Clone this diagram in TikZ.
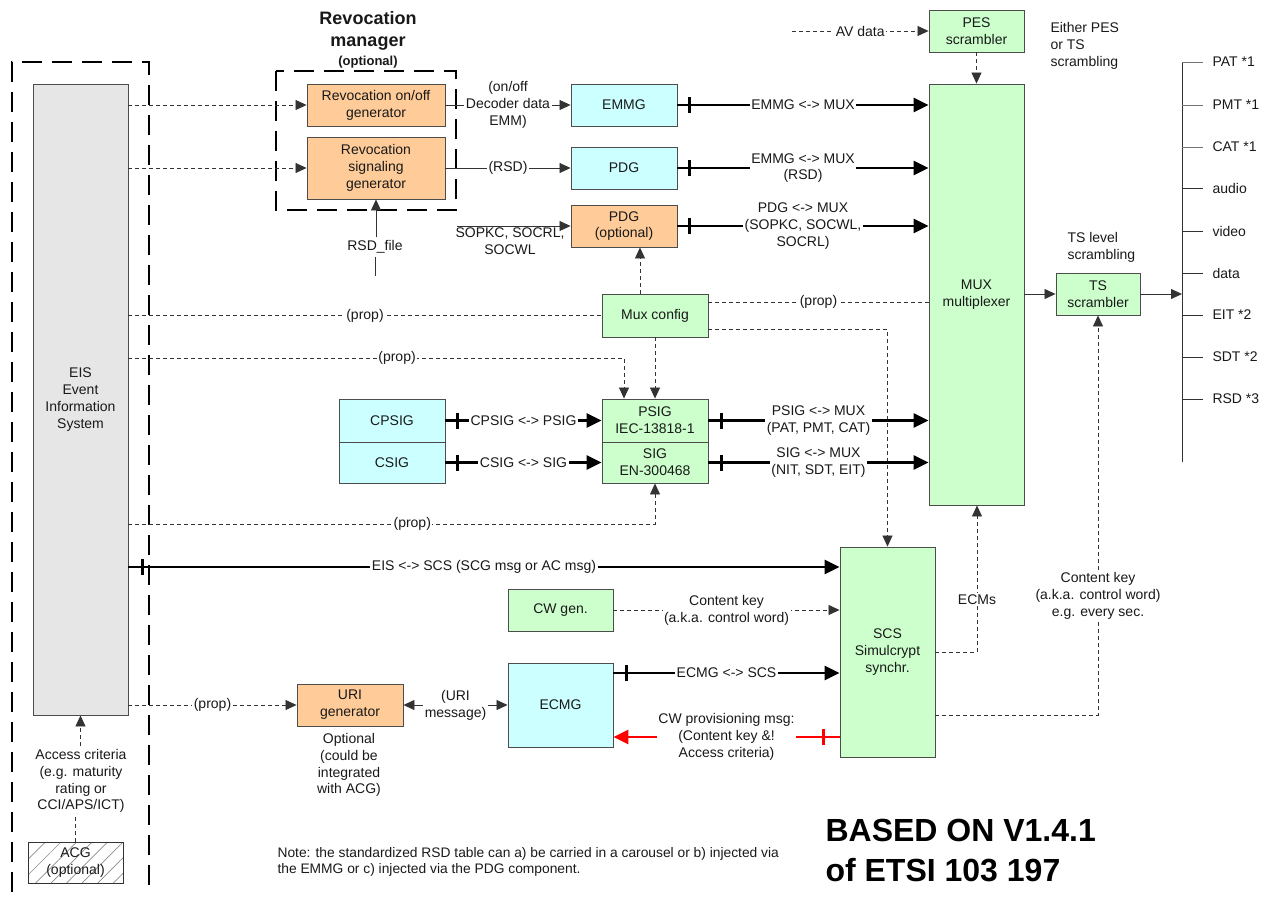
\documentclass[tikz,border=0pt]{standalone}
\usepackage{fontspec}
\setmainfont{Liberation Sans}
\usetikzlibrary{arrows.meta,calc,decorations.markings,patterns.meta}
\definecolor{orangec}{HTML}{FFCC99}
\definecolor{cyanc}{HTML}{CCFFFF}
\definecolor{greenc}{HTML}{CCFFCC}
\definecolor{grayc}{HTML}{E6E6E6}
\definecolor{linec}{HTML}{333333}
\definecolor{redc}{HTML}{FF0000}
\begin{document}
\begin{tikzpicture}[x=1pt,y=-1pt,
  every node/.style={font=\fontsize{14}{16.8}\selectfont, align=center, text=black!90},
  box/.style={draw=black!70, line width=0.9pt, rectangle, inner sep=2pt},
  thin/.style={draw=linec, line width=0.8pt},
  dl/.style={thin, dash pattern=on 4pt off 3pt},
  tipS/.style={-{Triangle[length=11pt,width=10pt]}},
  thk/.style={draw=black, line width=2.6pt, -{Triangle[length=15pt,width=14pt]}},
  redthk/.style={draw=redc, line width=2.6pt, -{Triangle[length=15pt,width=14pt]}},
  lbl/.style={fill=white, inner sep=1.5pt},
  bigdash/.style={line width=2.6pt, dash pattern=on 20pt off 10pt},
  tickd/.style={postaction={decorate,decoration={markings,mark=at position #1 with {\draw[-,line width=2.5pt,black] (0pt,-8pt)--(0pt,8pt);}}}},
  tickr/.style={postaction={decorate,decoration={markings,mark=at position #1 with {\draw[-,line width=2.5pt,redc] (0pt,-8pt)--(0pt,8pt);}}}}
]
\useasboundingbox (0,0) rectangle (1269,903);

% ---------- EIS ----------
\draw[bigdash] (12,892) -- (12,62) -- (149,62) -- (149,892);
\node[box, fill=grayc, minimum width=95pt, minimum height=631pt] (eis) at (80.5,399.5) {EIS\\Event\\Information\\System};

% ---------- Revocation manager ----------
\draw[bigdash] (276,71) rectangle (456,210);
\node[font=\bfseries\fontsize{18}{22}\selectfont] (rmtitle) at (368,31) {Revocation\\manager};
\node[font=\bfseries\fontsize{13}{16}\selectfont, inner sep=0pt] (rmopt) at (368,62) {(optional)};
\node[box, fill=orangec, minimum width=138pt, minimum height=42pt] (revon) at (376,105) {Revocation on/off\\generator};
\node[box, fill=orangec, minimum width=138pt, minimum height=62pt] (revsig) at (376,168) {Revocation\\signaling\\generator};
\node[inner sep=3pt] (rsdf) at (375,247) {RSD\_file};
\coordinate (rsdend) at (375,276);

% ---------- generators ----------
\node[box, fill=cyanc, minimum width=106pt, minimum height=42pt] (emmg) at (624,105) {EMMG};
\node[box, fill=cyanc, minimum width=106pt, minimum height=42pt] (pdg1) at (624,168) {PDG};
\node[box, fill=orangec, minimum width=106pt, minimum height=42pt] (pdg2) at (624,226) {PDG\\(optional)};
\coordinate (sopkc) at (457,226);
\node (sopkct) at (510,241) {SOPKC, SOCRL,\\SOCWL};

\node[box, fill=greenc, minimum width=95pt, minimum height=42pt] (pes) at (976.5,31) {PES\\scrambler};
\coordinate (avstart) at (792,31);
\node[anchor=west, align=left] (either) at (1047,46) {Either PES\\or TS\\scrambling};

\node[box, fill=greenc, minimum width=95pt, minimum height=421pt] (mux) at (976.5,294.5) {MUX\\multiplexer};
\node[box, fill=greenc, minimum width=84pt, minimum height=42pt] (ts) at (1098,294) {TS\\scrambler};
\node[anchor=west, align=left] (tslevel) at (1064,247) {TS level\\scrambling};

\node[box, fill=greenc, minimum width=106pt, minimum height=43pt] (muxcfg) at (655,315.5) {Mux config};
\node[box, fill=greenc, minimum width=106pt, minimum height=43pt] (psig) at (655,420.5) {PSIG\\IEC-13818-1};
\node[box, fill=greenc, minimum width=106pt, minimum height=41pt] (sig) at (655,462.5) {SIG\\EN-300468};
\node[box, fill=cyanc, minimum width=106pt, minimum height=43pt] (cpsig) at (392,420.5) {CPSIG};
\node[box, fill=cyanc, minimum width=106pt, minimum height=41pt] (csig) at (392,462.5) {CSIG};

\node[box, fill=greenc, minimum width=95pt, minimum height=210pt] (scs) at (887.5,652) {SCS\\Simulcrypt\\synchr.};
\node[box, fill=greenc, minimum width=105pt, minimum height=42pt] (cwgen) at (560.5,610) {CW gen.};
\node[box, fill=cyanc, minimum width=105pt, minimum height=84pt] (ecmg) at (560.5,705) {ECMG};
\node[box, fill=orangec, minimum width=106pt, minimum height=42pt] (urigen) at (350,705) {URI\\generator};
\node (uriopt) at (349,765) {Optional\\(could be\\integrated\\with ACG)};

\node[draw=black!80, line width=0.9pt, pattern={Lines[angle=45,distance=11pt,line width=0.7pt]}, pattern color=black!45, minimum width=95pt, minimum height=41pt, inner sep=0pt] (acg) at (75.5,862.5) {};
\node (acgt) at (acg) {ACG\\(optional)};
\node (acc) at (81,781) {Access criteria\\(e.g. maturity\\rating or\\CCI/APS/ICT)};

% ---------- bus ----------
\coordinate (bus) at (1182,294);
\coordinate (bustop) at (1182,62);
\coordinate (busbot) at (1182,462);
\draw[thin] (bustop) -- (busbot);
\foreach \y/\t/\c [count=\i] in {62/PAT *1/black!55,105/PMT *1/black!55,147/CAT *1/black!55,188/audio/linec,231/video/linec,273/data/linec,315/EIT *2/linec,357/SDT *2/linec,399/RSD *3/linec}{
  \draw[line width=0.8pt, draw=\c] (1182,\y) -- (1203,\y);
  \node[anchor=west] (bl\i) at (1209,\y) {\t};
}

% ---------- connectors ----------
\draw[dl,tipS] (eis.east |- revon.west) -- (revon.west);
\draw[dl,tipS] (eis.east |- revsig.west) -- (revsig.west);
\draw[thin,tipS] (revon.east) -- node[lbl]{(on/off\\Decoder data\\EMM)} (emmg.west);
\draw[thin,tipS] (revsig.east) -- node[lbl]{(RSD)} (pdg1.west);
\draw[thin,tipS] (sopkc) -- (pdg2.west);
\draw[thin,tipS] (rsdf.north -| revsig.south) -- (revsig.south);
\draw[thin] (rsdf.south) -- (rsdend);

\draw[thk,tickd=12pt] (emmg.east) -- node[lbl]{EMMG <-> MUX} (mux.west |- emmg.east);
\draw[thk,tickd=12pt] (pdg1.east) -- node[lbl]{EMMG <-> MUX\\(RSD)} (mux.west |- pdg1.east);
\draw[thk,tickd=12pt] (pdg2.east) -- node[lbl]{PDG <-> MUX\\(SOPKC, SOCWL,\\SOCRL)} (mux.west |- pdg2.east);

\draw[dl,tipS] (avstart) -- node[lbl]{AV data} (pes.west);
\draw[dl,tipS] (pes.south) -- (mux.north);
\draw[thin,tipS] (mux.east |- ts.west) -- (ts.west);
\draw[thin,tipS] (ts.east) -- (bus);

\draw[dl] (eis.east |- muxcfg.west) -- node[lbl]{(prop)} (muxcfg.west);
\draw[dl] (muxcfg.east |- 0,302) -- node[lbl]{(prop)} (mux.west |- 0,302);
\draw[dl,tipS] (muxcfg.east |- 0,329) -| (scs.north);
\draw[dl,tipS] (muxcfg.north -| 640,0) -- (pdg2.south -| 640,0);
\draw[dl,tipS] (muxcfg.south) -- (psig.north);
\draw[dl,tipS] (eis.east |- 0,358) -- node[lbl,pos=0.542]{(prop)} (624,358) -- (psig.north -| 624,0);
\draw[dl,tipS] (eis.east |- 0,524) -- node[lbl,pos=0.539]{(prop)} (sig.south |- 0,524) -- (sig.south);

\draw[thk,tickd=12pt] (cpsig.east) -- node[lbl]{CPSIG <-> PSIG} (psig.west);
\draw[thk,tickd=12pt] (csig.east) -- node[lbl]{CSIG <-> SIG} (sig.west);
\draw[thk,tickd=13pt] (psig.east) -- node[lbl]{PSIG <-> MUX\\(PAT, PMT, CAT)} (mux.west |- psig.east);
\draw[thk,tickd=13pt] (sig.east) -- node[lbl]{SIG <-> MUX\\(NIT, SDT, EIT)} (mux.west |- sig.east);

\draw[thk,tickd=14pt] (eis.east |- 0,567) -- node[lbl]{EIS <-> SCS (SCG msg or AC msg)} (scs.west |- 0,567);
\draw[dl,tipS] (cwgen.east) -- node[lbl]{Content key\\(a.k.a. control word)} (scs.west |- cwgen.east);
\draw[thk,tickd=13pt] (ecmg.east |- 0,673) -- node[lbl]{ECMG <-> SCS} (scs.west |- 0,673);
\draw[redthk,tickr=16pt] (scs.west |- 0,737) -- node[lbl]{CW provisioning msg:\\(Content key \&!\\Access criteria)} (ecmg.east |- 0,737);

\draw[dl,tipS] (scs.east |- 0,652) -- (977,652) -- node[lbl,pos=0.36]{ECMs} (mux.south -| 977,0);
\draw[dl,tipS] (scs.east |- 0,715) -- (ts.south |- 0,715) -- node[lbl,pos=0.2975]{Content key\\(a.k.a. control word)\\e.g. every sec.} (ts.south);

\draw[dl,tipS] (eis.east |- urigen.west) -- node[lbl]{(prop)} (urigen.west);
\draw[thin,{Triangle[length=11pt,width=10pt]}-{Triangle[length=11pt,width=10pt]}] (urigen.east) -- node[lbl]{(URI\\message)} (ecmg.west);

\draw[dl] (acg.north) -- (acg.north |- acc.south);
\draw[dl,tipS] (eis.south |- acc.north) -- (eis.south);

% ---------- notes ----------
\node[anchor=west, align=left, font=\fontsize{13.8}{16}\selectfont] (note) at (274,862) {Note: the standardized RSD table can a) be carried in a carousel or b) injected via\\the EMMG or c) injected via the PDG component.};
\node[anchor=west, align=left, font=\bfseries\fontsize{32}{40}\selectfont, text=black] (based) at (822,850) {BASED ON V1.4.1\\of ETSI 103 197};
\end{tikzpicture}
\end{document}
